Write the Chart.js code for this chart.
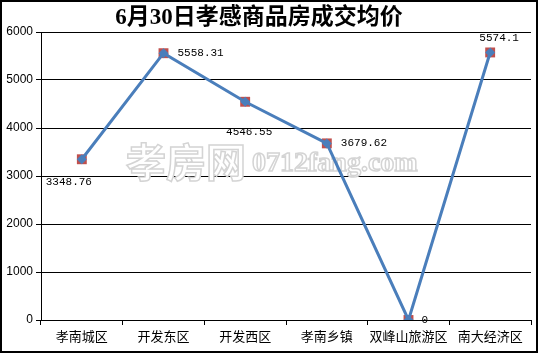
<!DOCTYPE html>
<html>
<head>
<meta charset="utf-8">
<script src="https://cdn.jsdelivr.net/npm/chart.js@4.4.1/dist/chart.umd.min.js"></script>
<style>
  body { margin: 0; background: #fff; }
  canvas { display: block; }
</style>
</head>
<body>
<canvas id="priceChart" width="538" height="353"></canvas>
<script>
const titleText = "6月30日孝感商品房成交均价";
const districts = ["孝南城区", "开发东区", "开发西区", "孝南乡镇", "双峰山旅游区", "南大经济区"];
const avgPrice = [3348.76, 5558.31, 4546.55, 3679.62, 0, 5574.1];
const priceLabels = ["3348.76", "5558.31", "4546.55", "3679.62", "0", "5574.1"];
const yTicks = [0, 1000, 2000, 3000, 4000, 5000, 6000];

// label placement relative to each point: [dx, dy, align]
const labelOffsets = [
    [-13, 23, "center"],
    [14, 0, "left"],
    [4, 30, "center"],
    [14, 0, "left"],
    [13, 0, "left"],
    [9, -14, "center"],
];

const decorPlugin = {
    id: "decor",
    beforeDatasetsDraw(chart) {
        const ctx = chart.ctx;
        ctx.save();
        // faint watermark behind the line
        ctx.lineWidth = 1.5;
        ctx.strokeStyle = "#d4d4d4";
        ctx.fillStyle = "#ffffff";
        ctx.textBaseline = "middle";
        ctx.textAlign = "left";
        ctx.font = 'bold 40px "Noto Sans CJK SC"';
        ctx.fillText("孝房网", 126, 162);
        ctx.strokeText("孝房网", 126, 162);
        ctx.font = 'bold 28px "Liberation Serif"';
        ctx.fillText("0712fang.com", 252, 164);
        ctx.strokeText("0712fang.com", 252, 164);
        ctx.restore();
    },
    afterDraw(chart) {
        const ctx = chart.ctx;
        ctx.save();
        // title
        ctx.fillStyle = "#000";
        ctx.textAlign = "center";
        ctx.textBaseline = "middle";
        ctx.font = 'bold 23px "Liberation Serif", "Noto Sans CJK SC"';
        ctx.fillText(titleText, 259, 18);

        // value labels
        ctx.font = '11px "Liberation Mono"';
        const meta = chart.getDatasetMeta(0);
        meta.data.forEach((pt, i) => {
            const [dx, dy, align] = labelOffsets[i];
            ctx.textAlign = align;
            ctx.fillText(priceLabels[i], pt.x + dx, pt.y + dy);
        });

        // outer frame
        ctx.lineWidth = 2;
        ctx.strokeStyle = "#000";
        ctx.strokeRect(1, 1, chart.width - 2, chart.height - 2);
        ctx.restore();
    },
};

new Chart(document.getElementById("priceChart"), {
    type: "line",
    data: {
        labels: districts,
        datasets: [
            {
                label: "成交均价",
                data: avgPrice,
                borderColor: "#4A7EBB",
                borderWidth: 3,
                tension: 0,
                pointStyle: "rectRot",
                pointRadius: 5,
                pointBackgroundColor: "#4A7EBB",
                pointBorderColor: "#4A7EBB",
                pointBorderWidth: 0,
            },
            {
                label: "标记",
                data: avgPrice,
                showLine: false,
                pointStyle: "rect",
                pointRadius: 7,
                pointBackgroundColor: "#C0504D",
                pointBorderColor: "#C0504D",
                pointBorderWidth: 0,
            },
        ],
    },
    options: {
        responsive: false,
        animation: false,
        layout: { padding: { top: 32, right: 3, bottom: 0, left: 0 } },
        plugins: {
            legend: { display: false },
            tooltip: { enabled: false },
        },
        scales: {
            x: {
                offset: true,
                grid: {
                    offset: true,
                    drawOnChartArea: false,
                    color: "#000",
                    tickLength: 5,
                },
                border: { color: "#000", width: 1 },
                ticks: {
                    color: "#000",
                    padding: 3,
                    maxRotation: 0,
                    autoSkip: false,
                    font: { family: '"Noto Sans CJK SC"', size: 13 },
                },
                afterFit(scale) { scale.height = 33; },
            },
            y: {
                min: 0,
                max: 6000,
                afterBuildTicks(scale) {
                    scale.ticks = yTicks.map(v => ({ value: v }));
                },
                grid: { color: "#000", tickLength: 5 },
                border: { color: "#000", width: 1 },
                ticks: {
                    color: "#000",
                    padding: 3,
                    font: { family: '"Liberation Sans"', size: 12 },
                    callback: v => String(v),
                },
                afterFit(scale) { scale.width = 41; },
            },
        },
    },
    plugins: [decorPlugin],
});
</script>
</body>
</html>
